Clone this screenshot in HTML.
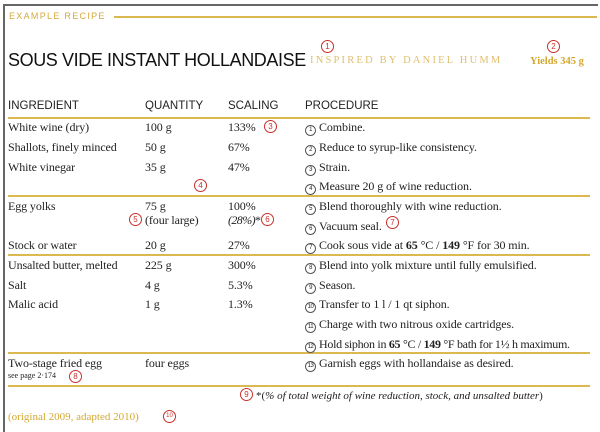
<!DOCTYPE html>
<html><head><meta charset="utf-8"><style>
body{margin:0;width:600px;height:432px;background:#fff;position:relative;overflow:hidden;font-family:"Liberation Serif",serif;color:#222}
.a{position:absolute;white-space:nowrap}
.t{font-size:12px;line-height:12px;letter-spacing:-0.1px}
.h{font-family:"Liberation Sans",sans-serif;font-size:11.5px;color:#222}
.g{color:#d4aa3c}
.line{position:absolute;height:1.5px;background:#dcb850}
.c{position:absolute;width:11px;height:11px;border:1px solid #c8302c;border-radius:50%;color:#c8302c;font-size:8px;line-height:11px;text-align:center;font-family:"Liberation Sans",sans-serif}
.n{display:inline-block;width:9px;height:9px;border:1px solid #555;border-radius:50%;font-size:6px;line-height:9px;text-align:center;font-family:"Liberation Sans",sans-serif;vertical-align:0px;margin-right:3px;letter-spacing:-0.5px}
</style></head><body>
<div style="position:absolute;left:4px;top:4px;width:594px;height:2px;background:#666"></div>
<div style="position:absolute;left:3px;top:4px;width:2px;height:428px;background:#666"></div>
<div class="a g" style="left:9px;top:11px;font-family:'Liberation Sans',sans-serif;font-size:9px;letter-spacing:1.3px">EXAMPLE RECIPE</div>
<div style="position:absolute;left:114px;top:16px;width:483px;height:2px;background:#dcb850"></div>
<div class="a" style="left:8px;top:50px;font-family:'Liberation Sans',sans-serif;font-size:18px;letter-spacing:-0.4px;color:#111">SOUS VIDE INSTANT HOLLANDAISE</div>
<div class="a g" style="left:310px;top:55px;font-size:10.5px;letter-spacing:2.2px;color:#e0c070">INSPIRED BY DANIEL HUMM</div>
<div class="a g" style="left:530px;top:56px;font-size:10.5px;font-weight:bold;color:#d4a830">Yields 345 g</div>
<div class="c" style="left:321px;top:40px">1</div>
<div class="c" style="left:547px;top:40px">2</div>
<div class="a h" style="left:8px;top:100px">INGREDIENT</div>
<div class="a h" style="left:145px;top:100px">QUANTITY</div>
<div class="a h" style="left:228px;top:100px">SCALING</div>
<div class="a h" style="left:305px;top:100px">PROCEDURE</div>
<div class="line" style="left:8px;top:117px;width:582px;height:2px"></div>
<div class="line" style="left:8px;top:195px;width:582px"></div>
<div class="line" style="left:8px;top:254px;width:582px"></div>
<div class="line" style="left:8px;top:352px;width:582px"></div>
<div class="line" style="left:8px;top:385px;width:582px"></div>
<div class="a t" style="left:8px;top:121px">White wine (dry)</div>
<div class="a t" style="left:145px;top:121px">100 g</div>
<div class="a t" style="left:228px;top:121px">133%</div>
<div class="a t" style="left:305px;top:121px"><span class="n">1</span>Combine.</div>
<div class="a t" style="left:8px;top:141px">Shallots, finely minced</div>
<div class="a t" style="left:145px;top:141px">50 g</div>
<div class="a t" style="left:228px;top:141px">67%</div>
<div class="a t" style="left:305px;top:141px"><span class="n">2</span>Reduce to syrup-like consistency.</div>
<div class="a t" style="left:8px;top:161px">White vinegar</div>
<div class="a t" style="left:145px;top:161px">35 g</div>
<div class="a t" style="left:228px;top:161px">47%</div>
<div class="a t" style="left:305px;top:161px"><span class="n">3</span>Strain.</div>
<div class="a t" style="left:305px;top:180px"><span class="n">4</span>Measure 20 g of wine reduction.</div>
<div class="a t" style="left:8px;top:200px">Egg yolks</div>
<div class="a t" style="left:145px;top:200px">75 g</div>
<div class="a t" style="left:228px;top:200px">100%</div>
<div class="a t" style="left:305px;top:200px"><span class="n">5</span>Blend thoroughly with wine reduction.</div>
<div class="a t" style="left:145px;top:214px">(four large)</div>
<div class="a t" style="left:228px;top:214px;letter-spacing:-0.6px"><i>(28%)</i>*</div>
<div class="a t" style="left:305px;top:220px"><span class="n">6</span>Vacuum seal.</div>
<div class="a t" style="left:8px;top:239px">Stock or water</div>
<div class="a t" style="left:145px;top:239px">20 g</div>
<div class="a t" style="left:228px;top:239px">27%</div>
<div class="a t" style="left:305px;top:239px"><span class="n">7</span>Cook sous vide at <b>65</b> °C / <b>149</b> °F for 30 min.</div>
<div class="a t" style="left:8px;top:259px">Unsalted butter, melted</div>
<div class="a t" style="left:145px;top:259px">225 g</div>
<div class="a t" style="left:228px;top:259px">300%</div>
<div class="a t" style="left:305px;top:259px"><span class="n">8</span>Blend into yolk mixture until fully emulsified.</div>
<div class="a t" style="left:8px;top:279px">Salt</div>
<div class="a t" style="left:145px;top:279px">4 g</div>
<div class="a t" style="left:228px;top:279px">5.3%</div>
<div class="a t" style="left:305px;top:279px"><span class="n">9</span>Season.</div>
<div class="a t" style="left:8px;top:298px">Malic acid</div>
<div class="a t" style="left:145px;top:298px">1 g</div>
<div class="a t" style="left:228px;top:298px">1.3%</div>
<div class="a t" style="left:305px;top:298px"><span class="n">10</span>Transfer to 1 l / 1 qt siphon.</div>
<div class="a t" style="left:305px;top:318px"><span class="n">11</span>Charge with two nitrous oxide cartridges.</div>
<div class="a t" style="left:305px;top:338px;letter-spacing:-0.3px"><span class="n">12</span>Hold siphon in <b>65</b> °C / <b>149</b> °F bath for 1½ h maximum.</div>
<div class="a t" style="left:8px;top:357px">Two-stage fried egg</div>
<div class="a" style="left:8px;top:371px;font-size:8px">see page 2·174</div>
<div class="a t" style="left:145px;top:357px">four eggs</div>
<div class="a t" style="left:305px;top:357px"><span class="n">13</span>Garnish eggs with hollandaise as desired.</div>
<div class="a" style="left:256px;top:390px;font-size:11px">*(<i>% of total weight of wine reduction, stock, and unsalted butter</i>)</div>
<div class="a g" style="left:8px;top:411px;font-size:11px;color:#d4a830">(original 2009, adapted 2010)</div>
<div class="c" style="left:264px;top:120px">3</div>
<div class="c" style="left:194px;top:179px">4</div>
<div class="c" style="left:129px;top:213px">5</div>
<div class="c" style="left:261px;top:213px">6</div>
<div class="c" style="left:386px;top:216px">7</div>
<div class="c" style="left:69px;top:370px">8</div>
<div class="c" style="left:240px;top:388px">9</div>
<div class="c" style="left:163px;top:410px;font-size:6px">10</div>
</body></html>
